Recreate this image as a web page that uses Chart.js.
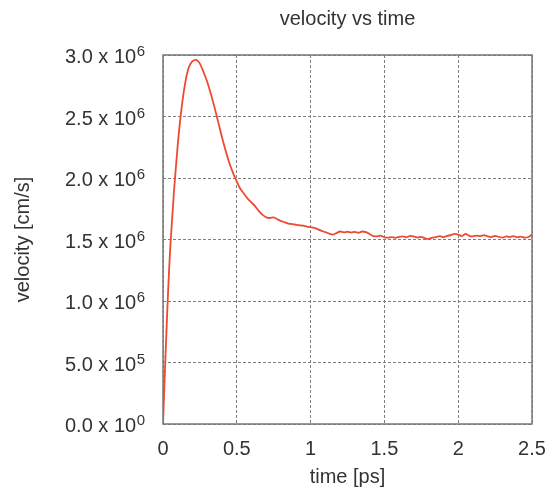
<!DOCTYPE html>
<html lang="en">
<head>
    <meta charset="UTF-8">
    <title>velocity vs time</title>
    <script src="https://cdn.jsdelivr.net/npm/chart.js"></script>
    <style>
        html, body { margin: 0; padding: 0; background: #fff; }
        #box { width: 549px; height: 496px; }
    </style>
</head>
<body>
    <div id="box">
        <canvas id="velocidade"></canvas>
    </div>

<script>
// time in ps
const times = [
    0, 0.01, 0.02, 0.03, 0.04, 0.05, 0.075, 0.1, 0.125, 0.15, 0.175, 0.2, 0.225,
    0.25, 0.275, 0.3, 0.325, 0.35, 0.375, 0.4, 0.425, 0.45, 0.475,
    0.5, 0.525, 0.55, 0.575, 0.6, 0.625, 0.65, 0.675, 0.7, 0.725,
    0.75, 0.775, 0.8, 0.825, 0.85, 0.875, 0.9, 0.925, 0.95, 0.975,
    1.0, 1.025, 1.05, 1.075, 1.1, 1.125, 1.15, 1.175, 1.2, 1.225,
    1.25, 1.275, 1.3, 1.325, 1.35, 1.375, 1.4, 1.425, 1.45, 1.475,
    1.5, 1.525, 1.55, 1.575, 1.6, 1.625, 1.65, 1.675, 1.7, 1.725,
    1.75, 1.775, 1.8, 1.825, 1.85, 1.875, 1.9, 1.925, 1.95, 1.975,
    2.0, 2.025, 2.05, 2.075, 2.1, 2.125, 2.15, 2.175, 2.2, 2.225,
    2.25, 2.275, 2.3, 2.325, 2.35, 2.375, 2.4, 2.425, 2.45, 2.475, 2.5
];

// velocity in units of 10^6 cm/s
const velocityE6 = [
    0, 0.33, 0.65, 0.95, 1.22, 1.45, 1.90, 2.27, 2.56, 2.77, 2.90, 2.95, 2.96,
    2.93, 2.86, 2.78, 2.68, 2.57, 2.45, 2.33, 2.22, 2.12, 2.04,
    1.97, 1.91, 1.87, 1.83, 1.80, 1.77, 1.73, 1.70, 1.68, 1.675,
    1.68, 1.665, 1.65, 1.64, 1.63, 1.625, 1.62, 1.615, 1.612, 1.605,
    1.60, 1.595, 1.582, 1.57, 1.56, 1.548, 1.54, 1.552, 1.565, 1.558,
    1.563, 1.556, 1.562, 1.555, 1.565, 1.56, 1.545, 1.528, 1.525, 1.532,
    1.518, 1.515, 1.52, 1.514, 1.522, 1.526, 1.518, 1.53, 1.524, 1.515,
    1.522, 1.51, 1.505, 1.515, 1.52, 1.528, 1.52, 1.53, 1.535, 1.545,
    1.54, 1.528, 1.545, 1.53, 1.525, 1.532, 1.528, 1.535, 1.525, 1.52,
    1.53, 1.522, 1.515, 1.525, 1.52, 1.527, 1.518, 1.523, 1.515, 1.52, 1.54
];

// tick labels: mantissa part and power of ten
const yTickValues = [0, 0.5, 1.0, 1.5, 2.0, 2.5, 3.0];
const yTickMain = ['0.0 x 10', '5.0 x 10', '1.0 x 10', '1.5 x 10', '2.0 x 10', '2.5 x 10', '3.0 x 10'];
const yTickExp = ['0', '5', '6', '6', '6', '6', '6'];
const xTickLabels = ['0', '0.5', '1', '1.5', '2', '2.5'];

const fonte = 'Arial, "Liberation Sans", sans-serif';

let pontos = [];
for (let i = 0; i < times.length; i++) {
    pontos.push({ x: times[i], y: velocityE6[i] });
}

// moldura cinza em volta da area do grafico + rotulos do eixo y com expoente
const moldura = {
    id: 'moldura',
    afterDraw(chart) {
        const a = chart.chartArea;
        const ctx = chart.ctx;
        ctx.save();
        ctx.strokeStyle = '#777';
        ctx.lineWidth = 1.5;
        ctx.strokeRect(a.left, a.top, a.right - a.left, a.bottom - a.top);

        const escala = chart.scales.y;
        const xDireita = a.left - 18;
        ctx.fillStyle = '#333';
        ctx.textBaseline = 'alphabetic';
        ctx.textAlign = 'right';
        for (let i = 0; i < yTickValues.length; i++) {
            const y = escala.getPixelForValue(yTickValues[i]);
            ctx.font = '15px ' + fonte;
            const wExp = ctx.measureText(yTickExp[i]).width;
            ctx.fillText(yTickExp[i], xDireita, y + 1);
            ctx.font = '20px ' + fonte;
            ctx.fillText(yTickMain[i], xDireita - wExp - 0.5, y + 8);
        }
        ctx.restore();
    }
};

const config = {
    type: 'line',
    data: {
        datasets: [{
            label: 'velocity',
            data: pontos,
            borderColor: '#ee4a32',
            borderWidth: 1.8,
            pointRadius: 0,
            tension: 0.2,
            fill: false
        }]
    },
    options: {
        responsive: true,
        maintainAspectRatio: false,
        animation: false,
        layout: { padding: { left: 0, right: 17, top: 0, bottom: 0 } },
        plugins: {
            legend: { display: false },
            tooltip: { enabled: false },
            title: {
                display: true,
                text: 'velocity vs time',
                fullSize: false,
                color: '#333',
                font: { family: fonte, size: 20, weight: 'normal' },
                padding: { top: 7, bottom: 24 }
            }
        },
        scales: {
            x: {
                type: 'linear',
                min: 0,
                max: 2.5,
                afterFit(scale) {
                    scale.height = 72;
                    scale.paddingRight = 0;
                    scale.paddingLeft = 0;
                },
                afterBuildTicks(scale) {
                    scale.ticks = xTickLabels.map(function (t) { return { value: parseFloat(t) }; });
                },
                ticks: {
                    color: '#333',
                    padding: 13,
                    font: { family: fonte, size: 20 },
                    callback: function (value, index) { return xTickLabels[index]; }
                },
                grid: { color: '#808080', lineWidth: 1, drawTicks: false },
                border: { display: false, dash: [3, 2] },
                title: {
                    display: true,
                    text: 'time [ps]',
                    color: '#333',
                    font: { family: fonte, size: 20 },
                    padding: { top: 0, bottom: 7 }
                }
            },
            y: {
                min: 0,
                max: 3.0,
                afterFit(scale) { scale.width = 163; },
                afterBuildTicks(scale) {
                    scale.ticks = yTickValues.map(function (v) { return { value: v }; });
                },
                ticks: {
                    color: 'rgba(0,0,0,0)',
                    padding: 15,
                    font: { family: fonte, size: 20 },
                    callback: function (value, index) { return yTickMain[index]; }
                },
                grid: { color: '#808080', lineWidth: 1, drawTicks: false },
                border: { display: false, dash: [3, 2] },
                title: {
                    display: true,
                    text: 'velocity [cm/s]',
                    color: '#333',
                    font: { family: fonte, size: 20 },
                    padding: { top: 11, bottom: 0 }
                }
            }
        }
    },
    plugins: [moldura]
};

var graficoVelocidade = new Chart(document.getElementById('velocidade'), config);
</script>
</body>
</html>
